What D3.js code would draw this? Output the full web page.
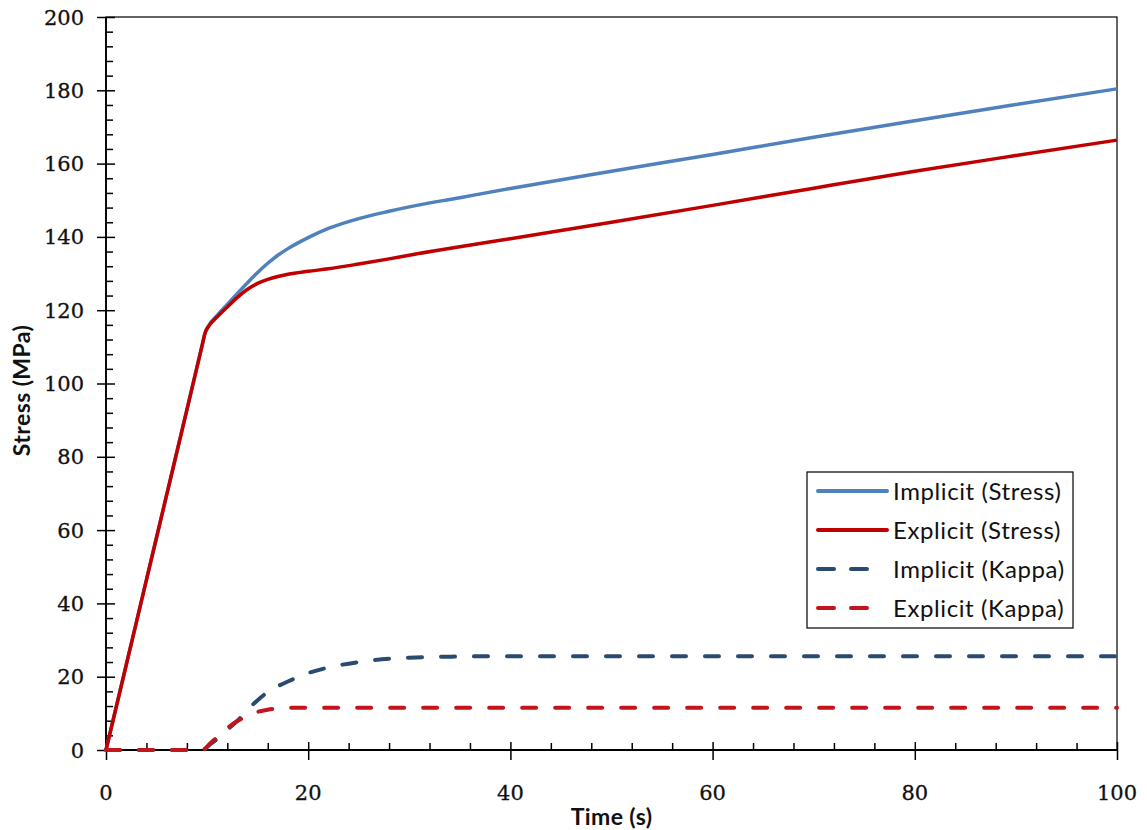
<!DOCTYPE html>
<html>
<head>
<meta charset="utf-8">
<script src="https://cdn.jsdelivr.net/npm/d3@7"></script>
<style>
  html, body { margin: 0; padding: 0; background: #fff; }
  svg { display: block; }
</style>
</head>
<body>
<svg id="chart" width="1147" height="830"></svg>
<script>
// ---- Data ----
const time = [0, 2, 4, 6, 8, 9.5, 9.8, 10.2, 11, 12, 13, 14, 15, 16, 17, 18, 20, 22, 25, 28, 30, 35, 40, 50, 60, 70, 80, 90, 100];
const implicitStress = [0, 23.2, 46.4, 69.6, 92.8, 110.3, 113.8, 116, 118.6, 121.6, 124.6, 127.5, 130.3, 132.8, 135, 136.8, 139.8, 142.3, 145, 147, 148.2, 150.7, 153.2, 157.9, 162.5, 167.2, 171.7, 176.1, 180.4];
const explicitStress = [0, 23.2, 46.4, 69.6, 92.8, 110.3, 113.8, 115.8, 118.2, 120.9, 123.5, 125.7, 127.3, 128.4, 129.2, 129.8, 130.6, 131.3, 132.6, 134, 135, 137.3, 139.5, 144, 148.6, 153.3, 157.9, 162.2, 166.4];
const implicitKappa = [0, 0, 0, 0, 0, 0, 0.3, 1.3, 3, 5.5, 8, 11, 13.6, 15.8, 17.4, 18.7, 21, 22.5, 24, 24.9, 25.2, 25.5, 25.6, 25.6, 25.6, 25.6, 25.6, 25.6, 25.6];
const explicitKappa = [0, 0, 0, 0, 0, 0, 0.4, 1.5, 3.5, 6, 7.9, 9.3, 10.4, 11, 11.3, 11.5, 11.5, 11.5, 11.5, 11.5, 11.5, 11.5, 11.5, 11.5, 11.5, 11.5, 11.5, 11.5, 11.5];

const xTicks = [0, 20, 40, 60, 80, 100];
const yTicks = [0, 20, 40, 60, 80, 100, 120, 140, 160, 180, 200];
const seriesNames = ["Implicit (Stress)", "Explicit (Stress)", "Implicit (Kappa)", "Explicit (Kappa)"];
const seriesValues = [implicitStress, explicitStress, implicitKappa, explicitKappa];
const seriesColors = ["#4F81BD", "#C00000", "#2A4A70", "#C4141C"];
const seriesDashed = [false, false, true, true];
const xTitle = "Time (s)";
const yTitle = "Stress (MPa)";

// ---- Layout ----
const svg = d3.select("#chart");
const pL = 106, pR = 1117, pT = 17, pB = 750;

const x = d3.scaleLinear().domain([0, 100]).range([pL, pR]);
const y = d3.scaleLinear().domain([0, 200]).range([pB, pT]);

// plot area border
svg.append("rect")
  .attr("x", pL).attr("y", pT)
  .attr("width", pR - pL).attr("height", pB - pT)
  .attr("fill", "none").attr("stroke", "#000").attr("stroke-width", 1.2);

// minor ticks
const xMinor = d3.range(0, 101, 4).filter(v => v % 20 !== 0);
const yMinor = d3.range(0, 201, 4).filter(v => v % 20 !== 0);

const xAxisG = svg.append("g").attr("transform", `translate(0,${pB})`);
xAxisG.call(d3.axisBottom(x).tickValues(xMinor).tickSize(-7).tickFormat(""));
xAxisG.select(".domain").remove();
const xMajG = svg.append("g").attr("transform", `translate(0,${pB + 10})`);
xMajG.call(d3.axisBottom(x).tickValues(xTicks).tickSize(-18).tickFormat(""));
xMajG.select(".domain").remove();

const yAxisG = svg.append("g").attr("transform", `translate(${pL},0)`);
yAxisG.call(d3.axisRight(y).tickValues(yMinor).tickSize(7).tickFormat(""));
yAxisG.select(".domain").remove();
const yMajG = svg.append("g").attr("transform", `translate(${pL - 9},0)`);
yMajG.call(d3.axisRight(y).tickValues(yTicks).tickSize(18).tickFormat(""));
yMajG.select(".domain").remove();

svg.selectAll(".tick line").attr("stroke", "#000").attr("stroke-width", 1.5);

// axis lines
svg.append("line").attr("x1", pL).attr("x2", pR).attr("y1", pB).attr("y2", pB)
  .attr("stroke", "#000").attr("stroke-width", 1.8);
svg.append("line").attr("x1", pL).attr("x2", pL).attr("y1", pT).attr("y2", pB)
  .attr("stroke", "#000").attr("stroke-width", 1.8);

// tick labels
const tickFont = "'DejaVu Serif', serif";
svg.append("g").selectAll("text").data(yTicks).join("text")
  .attr("x", 84).attr("y", d => y(d)).attr("dy", "0.36em")
  .attr("text-anchor", "end")
  .attr("font-family", tickFont).attr("font-size", 21).attr("fill", "#111")
  .attr("stroke", "#111").attr("stroke-width", 0.3)
  .text(d => d);
svg.append("g").selectAll("text").data(xTicks).join("text")
  .attr("x", d => x(d)).attr("y", 800)
  .attr("text-anchor", "middle")
  .attr("font-family", tickFont).attr("font-size", 21).attr("fill", "#111")
  .attr("stroke", "#111").attr("stroke-width", 0.3)
  .text(d => d);

// axis titles
svg.append("text")
  .attr("transform", `translate(30,${(pT + pB) / 2 + 7}) rotate(-90)`)
  .attr("text-anchor", "middle")
  .attr("font-family", "Lato, sans-serif").attr("font-weight", "bold")
  .attr("font-size", 23).attr("letter-spacing", 0.4).attr("fill", "#111")
  .text(yTitle);
svg.append("text")
  .attr("x", (pL + pR) / 2).attr("y", 825)
  .attr("text-anchor", "middle")
  .attr("font-family", "Lato, sans-serif").attr("font-weight", "bold")
  .attr("font-size", 23).attr("letter-spacing", 0.4).attr("fill", "#111")
  .text(xTitle);

// lines
const line = d3.line().x(d => x(d[0])).y(d => y(d[1])).curve(d3.curveMonotoneX);
[0, 1, 2, 3].forEach(i => {
  const pts = time.map((t, k) => [t, seriesValues[i][k]]);
  svg.append("path")
    .datum(pts)
    .attr("d", line)
    .attr("fill", "none")
    .attr("stroke", seriesColors[i])
    .attr("stroke-width", seriesDashed[i] ? 4 : 3.5)
    .attr("stroke-linecap", seriesDashed[i] ? "round" : "butt")
    .attr("stroke-linejoin", "round")
    .attr("stroke-dasharray", seriesDashed[i] ? "14,19" : null);
});

// legend
const lg = svg.append("g");
lg.append("rect").attr("x", 807).attr("y", 472).attr("width", 266).attr("height", 156)
  .attr("fill", "#fff").attr("stroke", "#000").attr("stroke-width", 1.2);
const rowY = [491, 530, 569, 608];
seriesNames.forEach((name, i) => {
  lg.append("line")
    .attr("x1", 818).attr("x2", seriesDashed[i] ? 867 : 887).attr("y1", rowY[i]).attr("y2", rowY[i])
    .attr("stroke", seriesColors[i]).attr("stroke-width", 4)
    .attr("stroke-linecap", "round")
    .attr("stroke-dasharray", seriesDashed[i] ? "16,17" : null);
  lg.append("text")
    .attr("x", 893).attr("y", rowY[i]).attr("dy", "0.36em")
    .attr("font-family", "Lato, sans-serif").attr("font-size", 24)
    .attr("letter-spacing", 0.6).attr("fill", "#111")
    .text(name);
});
</script>
</body>
</html>
